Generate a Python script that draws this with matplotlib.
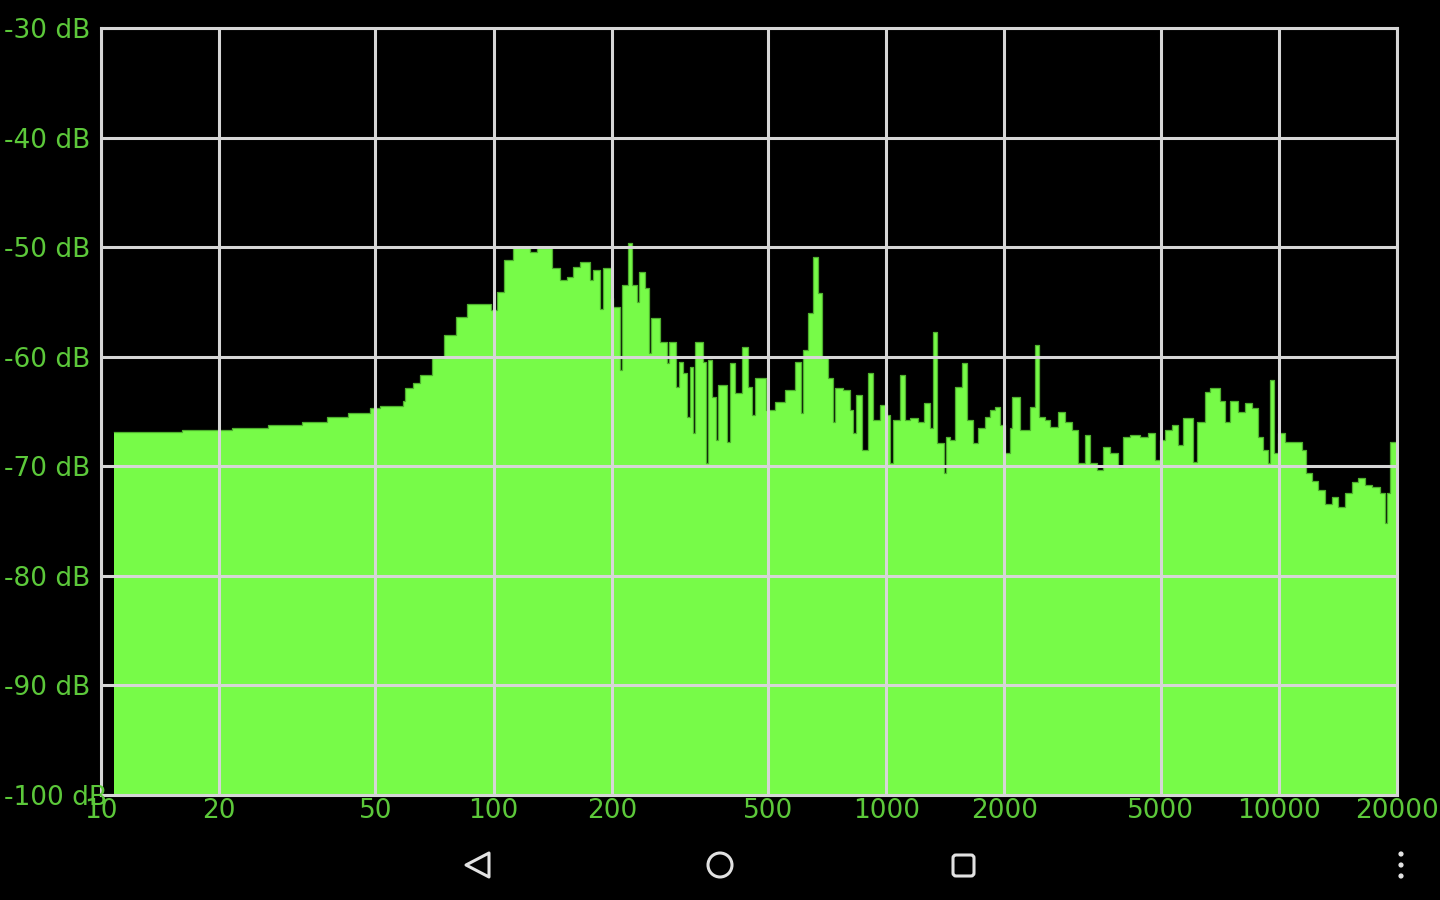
import matplotlib
matplotlib.use('Agg')
import matplotlib.pyplot as plt
from matplotlib.patches import Polygon, Circle, FancyBboxPatch

# spectrum: start frequency of each step (Hz) and its level (dB)
freqs = [
    10.8, 16.1, 21.6, 26.6, 32.5, 37.6, 42.6, 48.4, 51.4, 58.8,
    59.5, 62.3, 64.9, 69.7, 74.8, 80.2, 85.6, 98.5, 102, 106,
    112, 124, 129, 141, 148, 154, 159, 166, 176, 179,
    187, 190, 199, 201, 210, 212, 220, 225, 232, 234,
    243, 249, 252, 265, 277, 280, 292, 297, 304, 311,
    316, 322, 326, 342, 348, 351, 360, 369, 373, 393,
    400, 412, 429, 445, 455, 463, 494, 521, 552, 586,
    607, 614, 632, 651, 671, 686, 711, 732, 741, 776,
    809, 823, 838, 868, 899, 926, 964, 1005, 1023, 1041,
    1084, 1117, 1150, 1205, 1248, 1293, 1316, 1347, 1404, 1420,
    1454, 1497, 1560, 1606, 1664, 1713, 1785, 1838, 1893, 1949,
    2007, 2067, 2091, 2192, 2324, 2393, 2450, 2538, 2614, 2739,
    2854, 2974, 3079, 3210, 3305, 3444, 3567, 3715, 3894, 4010,
    4178, 4431, 4644, 4839, 4983, 5131, 5346, 5538, 5702, 6047,
    6191, 6486, 6680, 7086, 7294, 7512, 7873, 8203, 8546, 8852,
    9117, 9388, 9499, 9723, 9954, 10370, 11460, 11730, 12150, 12590,
    13110, 13660, 14150, 14740, 15360, 15910, 16580, 17280, 18100, 18640,
    18860, 19200,
]
levels = [
    -66.9, -66.7, -66.5, -66.2, -66.0, -65.5, -65.1, -64.7, -64.5, -64.0,
    -62.9, -62.4, -61.7, -60.1, -58.0, -56.4, -55.2, -55.7, -54.1, -51.2,
    -50.0, -50.4, -50.1, -51.9, -53.0, -52.7, -51.8, -51.4, -53.0, -52.1,
    -55.6, -51.9, -54.6, -55.5, -61.2, -53.5, -49.6, -53.5, -55.0, -52.3,
    -53.7, -59.7, -56.5, -58.7, -60.6, -58.7, -62.8, -60.5, -61.5, -65.5,
    -60.9, -67.0, -58.7, -60.5, -69.7, -60.3, -63.7, -67.6, -62.6, -67.8,
    -60.6, -63.3, -59.1, -62.8, -65.3, -61.9, -64.9, -64.1, -63.0, -60.5,
    -65.1, -59.4, -56.0, -50.9, -54.2, -60.1, -61.9, -66.0, -62.9, -63.0,
    -64.9, -67.0, -63.5, -68.5, -61.5, -65.8, -64.4, -65.3, -69.7, -65.8,
    -61.7, -65.8, -65.6, -66.0, -64.2, -66.5, -57.7, -67.9, -70.6, -67.3,
    -67.6, -62.8, -60.6, -65.8, -67.9, -66.5, -65.5, -64.9, -64.6, -66.2,
    -68.8, -66.5, -63.7, -66.7, -64.6, -58.9, -65.5, -65.8, -66.4, -65.0,
    -66.0, -66.7, -69.7, -67.1, -69.7, -70.3, -68.2, -68.8, -70.1, -67.3,
    -67.1, -67.3, -67.0, -69.4, -67.6, -66.7, -66.2, -68.1, -65.6, -69.6,
    -66.0, -63.2, -62.9, -64.0, -66.0, -64.0, -65.0, -64.2, -64.7, -67.3,
    -68.5, -69.7, -62.1, -68.8, -67.0, -67.8, -68.5, -70.6, -71.3, -72.2,
    -73.4, -72.8, -73.7, -72.4, -71.4, -71.1, -71.7, -71.9, -72.4, -75.2,
    -72.4, -67.8,
]
f_end = 20000

x_ticks = [10, 20, 50, 100, 200, 500, 1000, 2000, 5000, 10000, 20000]
db_ticks = [-30, -40, -50, -60, -70, -80, -90, -100]

green = '#77fb48'
edge = '#4fb02e'
label_green = '#5cc83a'
grid_grey = '#d6d6d6'

fig = plt.figure(figsize=(14.4, 9), dpi=100, facecolor='black')
ax = fig.add_axes([101 / 1440, 105 / 900, 1296 / 1440, 767 / 900])
ax.set_facecolor('black')
ax.set_xscale('log')
ax.set_xlim(10, 20000)
ax.set_ylim(-100, -30)

xs = freqs + [f_end]
ys = levels + [levels[-1]]
ax.fill_between(xs, ys, -100, step='post', color=green, lw=0, zorder=1)
ax.step(xs, ys, where='post', color=edge, lw=0.9, zorder=2)

ax.set_xticks(x_ticks)
ax.set_xticklabels([str(t) for t in x_ticks])
ax.minorticks_off()
ax.set_yticks(db_ticks)
ax.set_yticklabels(['%d dB' % t for t in db_ticks])
ax.set_axisbelow(False)
ax.grid(True, color=grid_grey, lw=2.2)
for s in ax.spines.values():
    s.set_color(grid_grey)
    s.set_linewidth(2.2)

ax.tick_params(axis='both', length=0, colors=label_green, labelsize=19)
ax.tick_params(axis='x', pad=2)
ax.tick_params(axis='y', pad=70)
for lab in ax.get_yticklabels():
    lab.set_horizontalalignment('left')

# android navigation bar
nav = fig.add_axes([0, 0, 1, 1], facecolor='none')
nav.set_xlim(0, 1440)
nav.set_ylim(900, 0)
nav.axis('off')
icon = '#e2e2e2'
nav.add_patch(Polygon([[466, 865], [489, 853], [489, 877]], closed=True,
                      fill=False, ec=icon, lw=2.2, joinstyle='round'))
nav.add_patch(Circle((720, 865), 12, fill=False, ec=icon, lw=2.2))
nav.add_patch(FancyBboxPatch((953, 855), 21, 21, boxstyle='round,pad=0,rounding_size=3',
                             fill=False, ec=icon, lw=2.2))
for y in [854, 865, 876]:
    nav.add_patch(Circle((1401, y), 2.6, color=icon, lw=0))

fig.savefig('out.png', dpi=100, facecolor='black')
